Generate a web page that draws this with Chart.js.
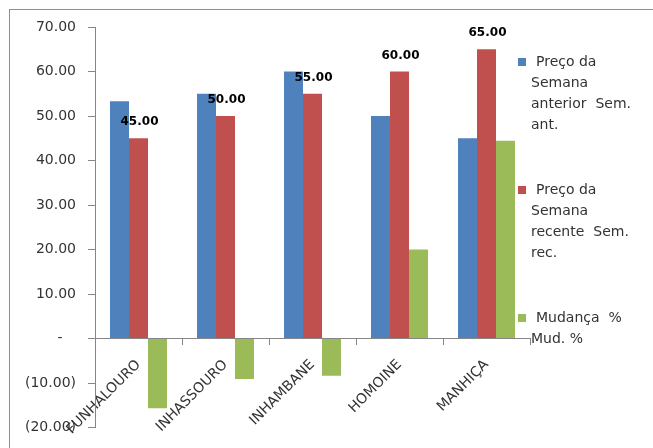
<!DOCTYPE html>
<html>
<head>
<meta charset="utf-8">
<script src="https://cdn.jsdelivr.net/npm/chart.js@4.4.0/dist/chart.umd.min.js"></script>
<style>
html, body { margin: 0; padding: 0; background: #fff; }
#wrap { position: relative; width: 653px; height: 448px; }
</style>
</head>
<body>
<div id="wrap"><canvas id="grafico"></canvas></div>
<script>
// Dados do gráfico
const categorias = ['FUNHALOURO', 'INHASSOURO', 'INHAMBANE', 'HOMOINE', 'MANHIÇA'];
const precoAnterior = [53.33, 55.00, 60.00, 50.00, 45.00];
const precoRecente = [45.00, 50.00, 55.00, 60.00, 65.00];
const mudanca = [-15.63, -9.09, -8.33, 20.00, 44.44];
const nomesSeries = ['Preço da Semana anterior  Sem. ant.', 'Preço da Semana recente  Sem. rec.', 'Mudança  % Mud. %'];
const linhasLegenda = [
    ['Preço da', 'Semana', 'anterior  Sem.', 'ant.'],
    ['Preço da', 'Semana', 'recente  Sem.', 'rec.'],
    ['Mudança  %', 'Mud. %']
];
const eixoYMin = -20;
const eixoYMax = 70;
const eixoYPasso = 10;

const cores = ['#4F81BD', '#C0504D', '#9BBB59'];
const corEixo = '#868686';
const corTexto = '#333333';

Chart.defaults.font.family = '"DejaVu Sans", sans-serif';

// formato contabilístico: 70.00 / - / (10.00)
function formatoConta(v) {
    if (v === 0) return '-   ';
    if (v < 0) return '(' + Math.abs(v).toFixed(2) + ')';
    return v.toFixed(2);
}

// moldura e fundo
const moldura = {
    id: 'moldura',
    beforeDraw(chart) {
        const ctx = chart.ctx;
        ctx.save();
        ctx.fillStyle = '#fff';
        ctx.fillRect(0, 0, chart.width, chart.height);
        ctx.strokeStyle = '#8e8e8e';
        ctx.lineWidth = 1;
        ctx.strokeRect(9.5, 9.5, 800, 600);
        ctx.restore();
    }
};

// rótulos sobre as barras do preço recente
const rotulosDados = {
    id: 'rotulosDados',
    afterDatasetsDraw(chart) {
        const ctx = chart.ctx;
        const meta = chart.getDatasetMeta(1);
        ctx.save();
        ctx.font = 'bold 12px "DejaVu Sans"';
        ctx.fillStyle = '#000';
        ctx.textAlign = 'center';
        ctx.textBaseline = 'bottom';
        meta.data.forEach((barra, i) => {
            ctx.fillText(precoRecente[i].toFixed(2), barra.x + 1, barra.y - 10);
        });
        ctx.restore();
    }
};

// legenda com texto em várias linhas
const legendaLinhas = {
    id: 'legendaLinhas',
    afterDraw(chart) {
        const ctx = chart.ctx;
        const topos = [62, 190, 318];
        ctx.save();
        ctx.font = '14px "DejaVu Sans"';
        ctx.fillStyle = corTexto;
        ctx.textAlign = 'left';
        ctx.textBaseline = 'middle';
        linhasLegenda.forEach((linhas, i) => {
            const y0 = topos[i];
            ctx.fillStyle = cores[i];
            ctx.fillRect(518, y0 - 4, 8, 8);
            ctx.fillStyle = corTexto;
            linhas.forEach((txt, j) => {
                ctx.fillText(txt, j === 0 ? 536 : 531, y0 + j * 21);
            });
        });
        ctx.restore();
    }
};

new Chart(document.getElementById('grafico'), {
    type: 'bar',
    data: {
        labels: categorias,
        datasets: [
            { label: nomesSeries[0], data: precoAnterior, backgroundColor: cores[0] },
            { label: nomesSeries[1], data: precoRecente, backgroundColor: cores[1] },
            { label: nomesSeries[2], data: mudanca, backgroundColor: cores[2] }
        ]
    },
    options: {
        responsive: true,
        maintainAspectRatio: false,
        animation: false,
        layout: { padding: { left: 10, right: 123, top: 27, bottom: 5 } },
        datasets: {
            bar: { categoryPercentage: 0.655, barPercentage: 1.0, borderWidth: 0 }
        },
        plugins: {
            legend: { display: false },
            tooltip: { enabled: false }
        },
        scales: {
            x: {
                position: { y: 0 },
                afterFit: s => { s.height = 0; },
                grid: { offset: true, drawOnChartArea: false, drawTicks: true, tickLength: 6, color: corEixo },
                border: { display: true, color: corEixo },
                ticks: {
                    autoSkip: false,
                    minRotation: 45,
                    maxRotation: 45,
                    padding: 12,
                    color: corTexto,
                    font: { size: 14 }
                }
            },
            y: {
                min: eixoYMin,
                max: eixoYMax,
                afterFit: s => { s.width = 85; },
                grid: { drawOnChartArea: false, drawTicks: true, tickLength: 7, color: corEixo },
                border: { display: true, color: corEixo },
                ticks: {
                    stepSize: eixoYPasso,
                    padding: 12,
                    color: corTexto,
                    font: { size: 14 },
                    callback: v => formatoConta(v)
                }
            }
        }
    },
    plugins: [moldura, rotulosDados, legendaLinhas]
});
</script>
</body>
</html>
